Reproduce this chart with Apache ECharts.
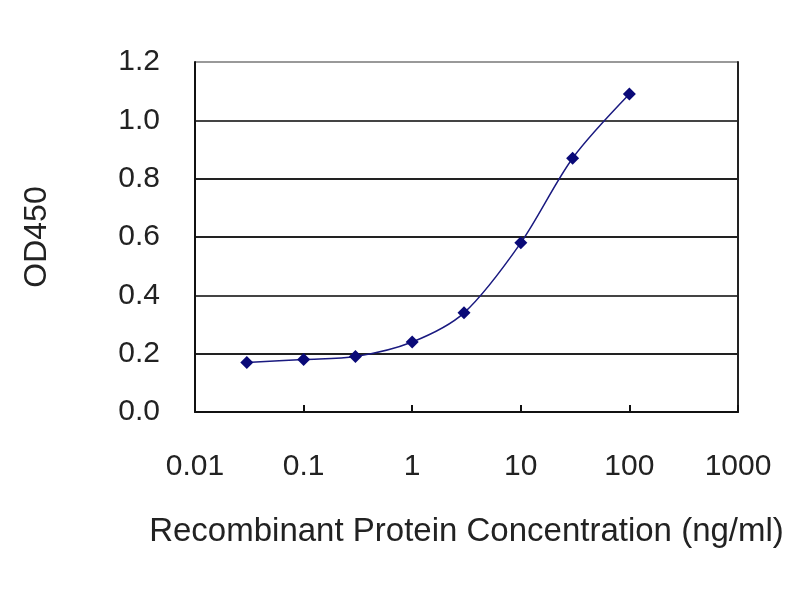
<!DOCTYPE html>
<html>
<head>
<meta charset="utf-8">
<script src="https://cdn.jsdelivr.net/npm/echarts@6/dist/echarts.min.js"></script>
<style>
  html, body { margin: 0; padding: 0; background: #fff; }
  #chart { width: 800px; height: 600px; }
</style>
</head>
<body>
<div id="chart"></div>
<script>
// concentration (ng/ml) vs OD450
const concentrations = [0.03, 0.1, 0.3, 1, 3, 10, 30, 100];
const od450 = [0.17, 0.18, 0.19, 0.24, 0.34, 0.58, 0.87, 1.09];
const xTicks = [0.01, 0.1, 1, 10, 100, 1000];

const font = '"Liberation Sans", Arial, sans-serif';
const chart = echarts.init(document.getElementById("chart"));

chart.setOption({
  backgroundColor: "#fff",
  animation: false,
  grid: { left: 195, right: 62, top: 62, bottom: 188, outerBoundsMode: "none" },
  xAxis: {
    type: "log",
    logBase: 10,
    min: xTicks[0],
    max: xTicks[xTicks.length - 1],
    name: "Recombinant Protein Concentration (ng/ml)",
    nameLocation: "middle",
    nameGap: 103,
    nameTextStyle: { fontFamily: font, fontSize: 33, color: "#222" },
    axisLine: { lineStyle: { color: "#111", width: 2 } },
    axisTick: { inside: true, length: 7, lineStyle: { color: "#111", width: 2 } },
    minorTick: { show: false },
    splitLine: { show: false },
    axisLabel: {
      margin: 40,
      fontFamily: font,
      fontSize: 30,
      color: "#222",
      formatter: (v) => String(+v.toPrecision(3))
    }
  },
  yAxis: [
    {
      type: "value",
      min: 0,
      max: 1.2,
      interval: 0.2,
      name: "OD450",
      nameLocation: "middle",
      nameGap: 142,
      nameRotate: 90,
      nameTextStyle: { fontFamily: font, fontSize: 32, color: "#222" },
      axisLine: { show: true, lineStyle: { color: "#111", width: 2 } },
      axisTick: { show: false },
      splitLine: {
        show: true,
        lineStyle: {
          color: ["#111", "#222", "#444", "#222", "#222", "#444", "#999"],
          width: 2
        }
      },
      axisLabel: {
        margin: 35,
        fontFamily: font,
        fontSize: 30,
        color: "#222",
        formatter: (v) => v.toFixed(1)
      }
    },
    {
      type: "value",
      min: 0,
      max: 1.2,
      position: "right",
      axisLine: { show: true, lineStyle: { color: "#222", width: 2 } },
      axisTick: { show: false },
      axisLabel: { show: false },
      splitLine: { show: false }
    }
  ],
  series: [
    {
      type: "line",
      data: concentrations.map((c, i) => [c, od450[i]]),
      smooth: 0.3,
      symbol: "diamond",
      symbolSize: 13,
      lineStyle: { color: "#1a1a80", width: 1.5 },
      itemStyle: { color: "#0a0a78" }
    }
  ]
});
</script>
</body>
</html>
